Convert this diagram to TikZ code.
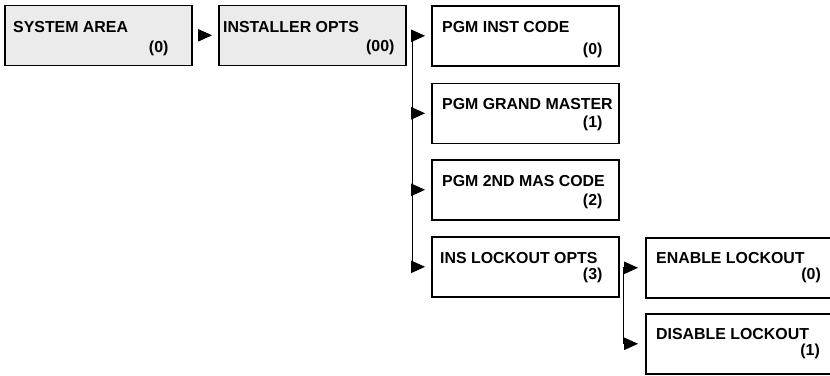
\documentclass[tikz,border=0pt]{standalone}
\usepackage{fontspec}
\setmainfont{Liberation Sans}
\usetikzlibrary{arrows.meta,calc}
\begin{document}
\begin{tikzpicture}[x=1pt,y=-1pt,
  box/.style={draw, line width=1.6pt, anchor=north west, inner sep=0pt,
              minimum width=187pt, minimum height=60pt},
  widebox/.style={box, minimum width=200pt},
  shaded/.style={fill=black!8},
  ttl/.style={anchor=base west, inner sep=0pt, font=\fontsize{15.9}{19}\selectfont\bfseries},
  num/.style={anchor=base east, inner sep=0pt, font=\fontsize{15.9}{19}\selectfont\bfseries},
  arr/.style={-{Triangle[length=14pt,width=12.5pt]}, line width=0.9pt},
  trunk/.style={line width=0.9pt},
]
\useasboundingbox (0,0) rectangle (830,375);

% boxes
\node[box,shaded] (b1) at (4,4.5) {};
\node[box,shaded] (b2) at (218,4.5) {};
\node[box] (b3) at (431,5) {};
\node[box] (b4) at (431,82.5) {};
\node[box] (b5) at (431,159) {};
\node[box] (b6) at (431,236) {};
\node[widebox] (b7) at (645,237) {};
\node[widebox] (b8) at (645,313) {};

% titles
\node[ttl] (t1) at ($(b1.north west)+(9,28)$) {SYSTEM AREA};
\node[ttl] (t2) at ($(b2.north west)+(5,28)$) {INSTALLER OPTS};
\node[ttl] (t3) at ($(b3.north west)+(11,27)$) {PGM INST CODE};
\node[ttl] (t4) at ($(b4.north west)+(11,27)$) {PGM GRAND MASTER};
\node[ttl] (t5) at ($(b5.north west)+(11,27)$) {PGM 2ND MAS CODE};
\node[ttl] (t6) at ($(b6.north west)+(9,27)$) {INS LOCKOUT OPTS};
\node[ttl] (t7) at ($(b7.north west)+(11,26.5)$) {ENABLE LOCKOUT};
\node[ttl] (t8) at ($(b8.north west)+(11,26.5)$) {DISABLE LOCKOUT};

% numbers
\node[num] (n1) at ($(b1.north east)+(-24,48)$) {(0)};
\node[num] (n2) at ($(b2.north east)+(-12,47)$) {(00)};
\node[num] (n3) at ($(b3.north east)+(-17,49)$) {(0)};
\node[num] (n4) at ($(b4.north east)+(-17,45)$) {(1)};
\node[num] (n5) at ($(b5.north east)+(-17,46)$) {(2)};
\node[num] (n6) at ($(b6.north east)+(-17,43)$) {(3)};
\node[num] (n7) at ($(b7.north west)+(176,42)$) {(0)};
\node[num] (n8) at ($(b8.north west)+(175,42)$) {(1)};

% connectors
\draw[arr] ([xshift=5pt]b1.east) -- ([xshift=-6pt]b2.west);

\coordinate (tr1) at (412,0);
\draw[trunk] (b3.west -| tr1) -- (b6.west -| tr1);
\foreach \b in {b3,b4,b5,b6}
  \draw[arr] (\b.west -| tr1) -- ([xshift=-6pt]\b.west);

\coordinate (tr2) at (623,0);
\draw[trunk] (b7.west -| tr2) -- (b8.west -| tr2);
\foreach \b in {b7,b8}
  \draw[arr] (\b.west -| tr2) -- ([xshift=-7pt]\b.west);
\end{tikzpicture}
\end{document}
